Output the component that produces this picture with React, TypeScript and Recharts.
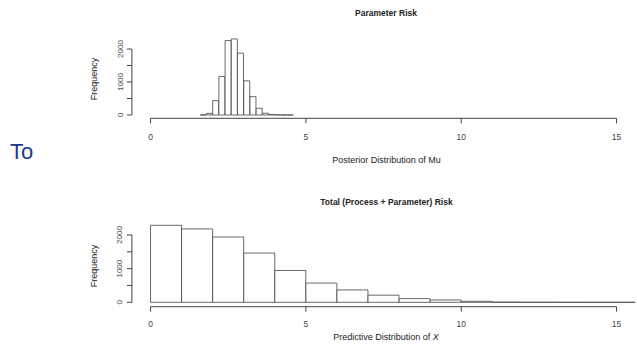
import React from "react";
import { BarChart, Bar, XAxis, YAxis, ReferenceLine } from "recharts";

// posterior draws of mu, bins of width 0.2
const muBreaks = [1.6, 1.8, 2.0, 2.2, 2.4, 2.6, 2.8, 3.0, 3.2, 3.4, 3.6, 3.8, 4.0, 4.2, 4.4, 4.6];
const muCounts = [4, 50, 435, 1165, 2255, 2305, 1875, 1033, 556, 203, 55, 18, 6, 2, 1];

// predictive draws of X, bins of width 1
const xBreaks = [0, 1, 2, 3, 4, 5, 6, 7, 8, 9, 10, 11, 12, 13, 14, 15, 16, 17];
const xCounts = [2287, 2179, 1940, 1463, 945, 572, 368, 212, 110, 70, 30, 6, 3, 2, 1, 1, 1];

const xTicks = [0, 5, 10, 15];
const freqTicks = [0, 500, 1000, 1500, 2000];
const freqLabels = [0, 1000, 2000];

const toBins = (breaks: number[], counts: number[]) =>
  counts.map((count, i) => ({ mid: (breaks[i] + breaks[i + 1]) / 2, count }));

const ink = "#444";
const font = "'Liberation Sans', Arial, sans-serif";

function FreqTick({ x, y, payload }: any) {
  if (!freqLabels.includes(payload.value)) return <g />;
  return (
    <text
      x={x}
      y={y}
      transform={`rotate(-90, ${x}, ${y})`}
      textAnchor="middle"
      fontSize={8}
      fill={ink}
      fontFamily={font}
    >
      {payload.value}
    </text>
  );
}

function Hist({ bins, yMin, yMax, top, bottom, tickGap }: any) {
  return (
    <BarChart
      width={637}
      height={176}
      data={bins}
      margin={{ top, right: 1.8, bottom, left: 91.9 }}
      barCategoryGap={0}
      barGap={0}
    >
      <XAxis
        dataKey="mid"
        type="number"
        domain={[-0.6, 15.6]}
        allowDataOverflow
        ticks={xTicks}
        interval={0}
        axisLine={false}
        tickSize={5}
        tickMargin={tickGap}
        height={30}
        stroke={ink}
        tick={{ fontSize: 8.5, fill: ink, fontFamily: font }}
      />
      <YAxis
        type="number"
        domain={[yMin, yMax]}
        allowDataOverflow
        ticks={freqTicks}
        interval={0}
        axisLine={false}
        tickSize={5}
        tickMargin={4.4}
        width={40}
        stroke={ink}
        tick={<FreqTick />}
      />
      <Bar dataKey="count" fill="#fff" stroke={ink} strokeWidth={0.8} isAnimationActive={false} />
      <ReferenceLine
        segment={[{ x: 0, y: yMin }, { x: 15, y: yMin }]}
        stroke={ink}
        ifOverflow="visible"
      />
      <ReferenceLine
        segment={[{ x: -0.6, y: 0 }, { x: -0.6, y: 2000 }]}
        stroke={ink}
        ifOverflow="visible"
      />
    </BarChart>
  );
}

export default function App() {
  const txt = { fontFamily: font, fill: "#222" };
  return (
    <div
      style={{
        position: "absolute",
        left: 0,
        top: 0,
        width: 637,
        height: 352,
        background: "#fff",
        overflow: "hidden",
      }}
    >
      <div style={{ position: "absolute", left: 0, top: 0 }}>
        <Hist bins={toBins(muBreaks, muCounts)} yMin={-100} yMax={2400} top={35.8} bottom={27.7} tickGap={10.7} />
      </div>
      <div style={{ position: "absolute", left: 0, top: 176 }}>
        <Hist bins={toBins(xBreaks, xCounts)} yMin={-130} yMax={2400} top={45.5} bottom={15.3} tickGap={9.3} />
      </div>
      <svg
        width={637}
        height={352}
        style={{ position: "absolute", left: 0, top: 0, pointerEvents: "none" }}
      >
        <text x={386} y={16} textAnchor="middle" fontSize={8.5} fontWeight="bold" {...txt}>
          Parameter Risk
        </text>
        <text x={96.5} y={79} transform="rotate(-90, 96.5, 79)" textAnchor="middle" fontSize={9} {...txt}>
          Frequency
        </text>
        <text x={386.5} y={163} textAnchor="middle" fontSize={9} {...txt}>
          Posterior Distribution of Mu
        </text>
        <text x={10} y={159} fontSize={22} fontFamily={font} fill="#1f3a8a">
          To
        </text>
        <text x={386.5} y={204.5} textAnchor="middle" fontSize={8.5} fontWeight="bold" {...txt}>
          Total (Process + Parameter) Risk
        </text>
        <text x={96.5} y={266} transform="rotate(-90, 96.5, 266)" textAnchor="middle" fontSize={9} {...txt}>
          Frequency
        </text>
        <text x={386} y={340} textAnchor="middle" fontSize={9} {...txt}>
          Predictive Distribution of <tspan fontStyle="italic">X</tspan>
        </text>
      </svg>
    </div>
  );
}
